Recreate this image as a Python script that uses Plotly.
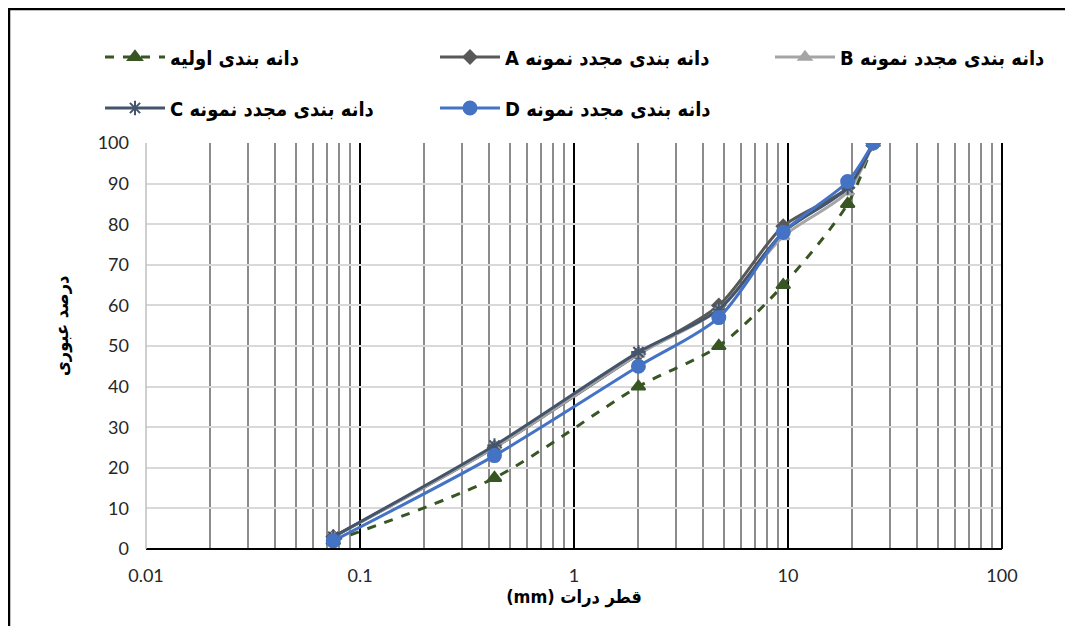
import plotly.graph_objects as go

sizes = [0.075, 0.425, 2, 4.75, 9.5, 19, 25]
initial = [2, 17.5, 40, 50, 65, 85, 100]
sample_a = [3, 25, 48, 60, 79.5, 89, 100]
sample_b = [3, 25, 48, 59, 77, 88, 100]
sample_c = [3, 25.5, 48.5, 59, 78, 89, 100]
sample_d = [2, 23, 45, 57, 78, 90.5, 100]

RLE, PDF = "\u202b", "\u202c"
names = [
    "دانه بندی اولیه",
    "دانه بندی مجدد نمونه A",
    "دانه بندی مجدد نمونه B",
    "دانه بندی مجدد نمونه C",
    "دانه بندی مجدد نمونه D",
]
x_title = "قطر درات (mm)"
y_title = "درصد عبوری"

FONT = "Liberation Sans Narrow, DejaVu Sans Condensed, DejaVu Sans"
TICKFONT = "Lato, Open Sans, sans-serif"

# page geometry (the page adds an 8px body margin)
W, H = 1065, 618
L, R, T, B = 138, 71, 135, 77
PL, PT, PW, PH = 146, 143, 856, 406


def px_x(px):
    return (px - PL) / PW


def px_y(py):
    return (PT + PH - py) / PH


styles = [
    dict(color="#375623", dash="dash", symbol="triangle-up", msize=12),
    dict(color="#595959", dash="solid", symbol="diamond", msize=10),
    dict(color="#a5a5a5", dash="solid", symbol="triangle-up", msize=11),
    dict(color="#44546a", dash="solid", symbol="asterisk-open", msize=12),
    dict(color="#4472c4", dash="solid", symbol="circle", msize=13),
]
series = [initial, sample_a, sample_b, sample_c, sample_d]
legend_ids = ["legend", "legend2", "legend3", "legend4", "legend5"]
legend_pos = [(100, 57), (435, 57), (770, 57), (100, 108), (435, 108)]

fig = go.Figure()
for name, vals, st, lid in zip(names, series, styles, legend_ids):
    fig.add_trace(go.Scatter(
        x=sizes, y=vals, name=RLE + name + PDF, mode="lines+markers", legend=lid,
        line=dict(color=st["color"], width=3, dash=st["dash"], shape="spline", smoothing=0.8),
        marker=dict(color=st["color"], size=st["msize"], symbol=st["symbol"],
                    line=dict(color=st["color"], width=2)),
    ))

legend_common = dict(
    orientation="h", xanchor="left", yanchor="middle", itemwidth=60,
    bgcolor="rgba(0,0,0,0)",
    font=dict(family=FONT, size=20, color="black", weight="bold"),
)
legends = {}
for lid, (lx, ly) in zip(legend_ids, legend_pos):
    legends[lid] = dict(legend_common, x=px_x(lx), y=px_y(ly))

fig.update_layout(
    width=W, height=H,
    margin=dict(l=L, r=R, t=T, b=B),
    plot_bgcolor="white", paper_bgcolor="white",
    showlegend=True,
    **legends,
    xaxis=dict(
        type="log", range=[-2, 2], showline=False, zeroline=False,
        showgrid=True, gridcolor="#000000", gridwidth=1.5,
        tickvals=[0.01, 0.1, 1, 10, 100], ticktext=["0.01", "0.1", "1", "10", "100"],
        ticks="", ticklabelstandoff=14,
        tickfont=dict(family=TICKFONT, size=18, color="#262626"),
        minor=dict(dtick="D1", showgrid=True, gridcolor="#8c8c8c", gridwidth=1.5, ticks=""),
        title=dict(text=RLE + x_title + PDF, standoff=2,
                   font=dict(family=FONT, size=18, color="black", weight="bold")),
    ),
    yaxis=dict(
        range=[0, 100], dtick=10, showgrid=True, gridcolor="#d9d9d9", gridwidth=1.5,
        zeroline=False, showline=False, ticks="", ticklabelstandoff=16,
        tickfont=dict(family=TICKFONT, size=18, color="#262626"),
    ),
    annotations=[
        dict(text=RLE + y_title + PDF, textangle=-90, showarrow=False,
             xref="paper", yref="paper", x=px_x(62), y=px_y(326),
             xanchor="center", yanchor="middle",
             font=dict(family=FONT, size=18, color="black", weight="bold")),
    ],
    shapes=[
        dict(type="line", xref="paper", yref="paper", x0=0, x1=1, y0=0, y1=0,
             line=dict(color="black", width=2)),
        dict(type="line", xref="paper", yref="paper", x0=1, x1=1, y0=0, y1=1,
             line=dict(color="black", width=2)),
        dict(type="line", xref="paper", yref="paper", x0=0, x1=0, y0=0, y1=1,
             line=dict(color="#bfbfbf", width=1.5)),
        dict(type="line", xref="paper", yref="paper",
             x0=px_x(8), x1=px_x(1073), y0=px_y(9), y1=px_y(9),
             line=dict(color="black", width=2.5)),
        dict(type="line", xref="paper", yref="paper",
             x0=px_x(9), x1=px_x(9), y0=px_y(8), y1=px_y(626),
             line=dict(color="black", width=2.5)),
    ],
)

fig.write_html("out.html")
